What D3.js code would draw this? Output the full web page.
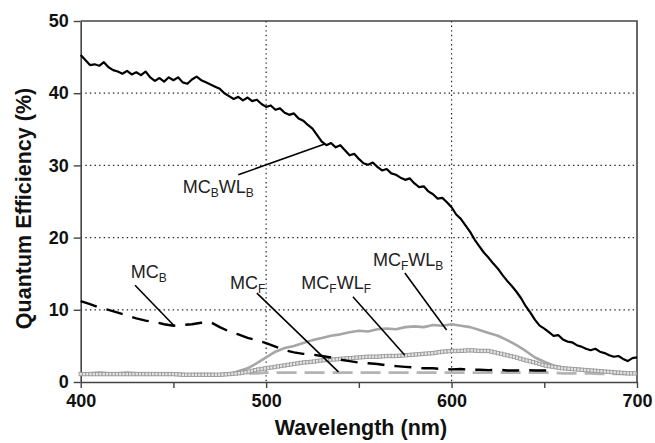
<!DOCTYPE html>
<html>
<head>
<meta charset="utf-8">
<script src="https://cdn.jsdelivr.net/npm/d3@7"></script>
<style>
  html, body { margin: 0; padding: 0; background: #fff; }
  svg { display: block; font-family: "Liberation Sans", Arial, Helvetica, sans-serif; }
</style>
</head>
<body>
<svg id="chart" width="655" height="443"></svg>
<script>
// ---------------- DATA ----------------
// MC_B WL_B (black solid), wavelengths 400..700 step 2.5
const wlFine = d3.range(0, 121).map(i => 400 + i * 2.5);
const mcbwlb = [
  45.3, 44.6, 43.9, 44.0, 43.8, 44.3, 43.6, 43.2, 43.0, 42.7,
  43.1, 42.6, 42.9, 42.5, 43.0, 42.2, 41.7, 42.1, 41.6, 42.2,
  41.8, 42.2, 41.5, 41.3, 41.9, 42.3, 41.8, 41.5, 41.2, 40.9,
  40.6, 40.0, 39.6, 39.2, 39.5, 39.0, 39.4, 38.9, 39.1, 38.5,
  38.1, 38.3, 37.7, 37.9, 37.3, 37.0, 37.2, 36.5, 36.2, 35.6,
  35.1, 34.2, 33.3, 32.8, 33.1, 32.5, 32.8, 32.1, 31.4, 31.6,
  30.9, 30.3, 30.1, 30.4, 29.8, 29.3, 29.5, 28.9, 28.7, 28.3,
  28.0, 28.2, 27.5, 27.0, 27.1, 26.4, 26.0, 25.4, 25.5, 24.9,
  24.2, 23.2, 22.6, 21.7, 20.8, 19.7, 18.8, 17.9, 17.2, 16.4,
  15.7, 14.8, 14.0, 13.3, 12.5, 11.6, 10.5, 9.6, 8.6, 7.8,
  7.4, 6.9, 6.4, 6.5, 5.9, 5.6, 5.5, 5.1, 4.9, 4.6,
  4.4, 4.6, 4.2, 4.0, 3.7, 3.5, 3.6, 3.2, 2.9, 3.3,
  3.4
];

// MC_B (black dashed), wavelengths 400..655 step 5
const wlMCB = d3.range(0, 52).map(i => 400 + i * 5);
const mcb = [
  11.2, 10.8, 10.3, 10.0, 9.6, 9.2, 8.8, 8.5, 8.3, 8.0,
  7.8, 7.9, 8.0, 8.2, 8.3, 7.6, 7.0, 6.6, 6.1, 5.8,
  5.4, 4.9, 4.4, 4.1, 3.9, 3.8, 3.6, 3.4, 3.1, 2.9,
  2.7, 2.6, 2.5, 2.3, 2.2, 2.1, 2.0, 1.9, 1.9, 1.8,
  1.75, 1.8, 1.7, 1.7, 1.65, 1.7, 1.6, 1.6, 1.65, 1.6,
  1.6, 1.6
];

// common 5 nm grid for gray series, 400..700
const wl5 = d3.range(0, 61).map(i => 400 + i * 5);

// MC_F (light gray dashed)
const mcf = [
  1.2, 1.2, 1.2, 1.2, 1.2, 1.2, 1.2, 1.2, 1.1, 1.1,
  1.1, 1.1, 1.1, 1.1, 1.1, 1.1, 1.2, 1.2, 1.2, 1.2,
  1.3, 1.3, 1.3, 1.3, 1.3, 1.3, 1.3, 1.3, 1.3, 1.3,
  1.3, 1.3, 1.3, 1.3, 1.3, 1.3, 1.3, 1.3, 1.3, 1.3,
  1.3, 1.3, 1.3, 1.3, 1.3, 1.3, 1.3, 1.3, 1.3, 1.3,
  1.3, 1.3, 1.2, 1.2, 1.2, 1.2, 1.1, 1.1, 1.1, 1.1,
  1.1
];

// MC_F WL_B (gray solid)
const mcfwlb = [
  1.2, 1.2, 1.3, 1.2, 1.2, 1.3, 1.2, 1.2, 1.1, 1.2,
  1.1, 1.1, 1.0, 1.0, 0.9, 0.9, 1.1, 1.5, 1.9, 2.6,
  3.4, 4.2, 4.7, 5.0, 5.4, 5.8, 6.1, 6.4, 6.6, 6.9,
  7.1, 7.0, 7.3, 7.4, 7.3, 7.6, 7.7, 7.6, 7.9, 7.8,
  8.0, 7.8, 7.6, 7.2, 6.8, 6.4, 5.8, 5.1, 4.3, 3.4,
  2.8, 2.3, 2.0, 1.8, 1.7, 1.6, 1.5, 1.4, 1.3, 1.2,
  1.2
];

// MC_F WL_F (gray with square markers)
const mcfwlf = [
  1.1, 1.1, 1.1, 1.1, 1.1, 1.1, 1.1, 1.1, 1.1, 1.1,
  1.1, 1.0, 1.0, 1.0, 1.0, 1.0, 1.1, 1.2, 1.4, 1.7,
  1.9, 2.1, 2.3, 2.5, 2.7, 2.8, 3.0, 3.1, 3.2, 3.3,
  3.4, 3.5, 3.5, 3.6, 3.6, 3.7, 3.8, 3.9, 4.0, 4.2,
  4.3, 4.3, 4.4, 4.3, 4.3, 4.0, 3.7, 3.4, 3.0, 2.7,
  2.3, 2.1, 1.9, 1.8, 1.7, 1.6, 1.5, 1.4, 1.3, 1.2,
  1.2
];

// axis ticks
const xTicks = [400, 500, 600, 700];
const xMinorTicks = [400, 450, 500, 550, 600, 650, 700];
const yTicks = [0, 10, 20, 30, 40, 50];
const xGrid = [500, 600];
const yGrid = [10, 20, 30, 40];

// annotations: label anchor (wavelength, value) and leader line endpoints
const annotations = [
  { parts: [["MC", 0], ["B", 1], ["WL", 0], ["B", 1]], lx: 455, ly: 26.2, from: [485, 28.7], to: [532, 33.0] },
  { parts: [["MC", 0], ["B", 1]], lx: 427, ly: 14.4, from: [429.3, 13.4], to: [450, 7.9] },
  { parts: [["MC", 0], ["F", 1]], lx: 480.5, ly: 12.9, from: [495, 12.3], to: [539, 1.4] },
  { parts: [["MC", 0], ["F", 1], ["WL", 0], ["F", 1]], lx: 519, ly: 12.9, from: [546.8, 11.8], to: [574.8, 3.7] },
  { parts: [["MC", 0], ["F", 1], ["WL", 0], ["B", 1]], lx: 557.6, ly: 16.1, from: [574.8, 15.1], to: [597.3, 7.2] }
];

// ---------------- CHART ----------------
const svg = d3.select("#chart");
const X0 = 80.7, X1 = 637, Y0 = 21, Y1 = 382;
const x = d3.scaleLinear().domain([400, 700]).range([X0, X1]);
const y = d3.scaleLinear().domain([0, 50]).range([Y1, Y0]);

// grid
const grid = svg.append("g").attr("stroke", "#222").attr("stroke-width", 1.2)
  .attr("stroke-dasharray", "1.4,3.2");
grid.selectAll("line.h").data(yGrid).enter().append("line")
  .attr("x1", X0).attr("x2", X1).attr("y1", d => y(d)).attr("y2", d => y(d));
grid.selectAll("line.v").data(xGrid).enter().append("line")
  .attr("y1", Y0).attr("y2", Y1).attr("x1", d => x(d)).attr("x2", d => x(d));

// frame (top + right)
svg.append("path")
  .attr("d", `M${X0},${Y0}H${X1}V${Y1}`)
  .attr("fill", "none").attr("stroke", "#444").attr("stroke-width", 1.6);

// axes
const yAxis = d3.axisLeft(y).tickValues(yTicks).tickSize(7).tickPadding(5).tickSizeOuter(0);
const gy = svg.append("g").attr("transform", `translate(${X0},0)`).call(yAxis);
gy.select(".domain").attr("stroke", "#444").attr("stroke-width", 1.6);
gy.selectAll(".tick line").attr("stroke", "#444").attr("stroke-width", 1.4);
gy.selectAll(".tick text").attr("font-size", 18).attr("font-weight", "bold")
  .attr("fill", "#111").attr("font-family", "Liberation Sans, Arial, sans-serif");

const xAxis = d3.axisBottom(x).tickValues(xMinorTicks).tickSize(6).tickPadding(6).tickSizeOuter(0)
  .tickFormat(d => xTicks.includes(d) ? d : "");
const gx = svg.append("g").attr("transform", `translate(0,${Y1})`).call(xAxis);
gx.select(".domain").attr("stroke", "#444").attr("stroke-width", 1.6);
gx.selectAll(".tick line").attr("stroke", "#444").attr("stroke-width", 1.4);
gx.selectAll(".tick text").attr("font-size", 18).attr("font-weight", "bold")
  .attr("fill", "#111").attr("font-family", "Liberation Sans, Arial, sans-serif");

// axis titles
svg.append("text")
  .attr("x", (X0 + X1) / 2 + 2).attr("y", 435)
  .attr("text-anchor", "middle").attr("font-size", 21.5).attr("font-weight", "bold").attr("fill", "#111")
  .text("Wavelength (nm)");
svg.append("text")
  .attr("transform", `translate(31,${(Y0 + Y1) / 2 + 7}) rotate(-90)`)
  .attr("text-anchor", "middle").attr("font-size", 21.5).attr("font-weight", "bold").attr("fill", "#111")
  .text("Quantum Efficiency (%)");

// lines
const line = (xs) => d3.line().x((d, i) => x(xs[i])).y(d => y(d));
const plot = svg.append("g");

plot.append("path").datum(mcf).attr("d", line(wl5))
  .attr("fill", "none").attr("stroke", "#b4b4b4").attr("stroke-width", 2.6)
  .attr("stroke-dasharray", "20,8");

plot.append("path").datum(mcfwlb).attr("d", line(wl5))
  .attr("fill", "none").attr("stroke", "#a6a6a6").attr("stroke-width", 2.6)
  .attr("stroke-linejoin", "round");

const sq = plot.append("path").datum(mcfwlf).attr("d", line(wl5))
  .attr("fill", "none").attr("stroke", "#a0a0a0").attr("stroke-width", 1.5);
const sqNode = sq.node();
const L = sqNode.getTotalLength();
const markerPts = d3.range(0, L, 3.3).map(d => sqNode.getPointAtLength(d));
plot.append("g").selectAll("rect").data(markerPts).enter().append("rect")
  .attr("x", d => d.x - 1.7).attr("y", d => d.y - 1.7)
  .attr("width", 3.4).attr("height", 3.4)
  .attr("fill", "#e4e4e4").attr("stroke", "#9a9a9a").attr("stroke-width", 0.9);

plot.append("path").datum(mcb).attr("d", line(wlMCB))
  .attr("fill", "none").attr("stroke", "#000").attr("stroke-width", 2.4)
  .attr("stroke-dasharray", "17,10");

plot.append("path").datum(mcbwlb).attr("d", line(wlFine))
  .attr("fill", "none").attr("stroke", "#000").attr("stroke-width", 2.2)
  .attr("stroke-linejoin", "round");

// annotations
const ann = svg.append("g");
annotations.forEach(a => {
  ann.append("line")
    .attr("x1", x(a.from[0])).attr("y1", y(a.from[1]))
    .attr("x2", x(a.to[0])).attr("y2", y(a.to[1]))
    .attr("stroke", "#000").attr("stroke-width", 1.6);
  const t = ann.append("text").attr("x", x(a.lx)).attr("y", y(a.ly))
    .attr("font-size", 18).attr("fill", "#222");
  let sub = 0;
  a.parts.forEach(([s, isSub]) => {
    const ts = t.append("tspan").text(s);
    if (isSub && !sub) { ts.attr("dy", 4).attr("font-size", 12); sub = 1; }
    else if (!isSub && sub) { ts.attr("dy", -4); sub = 0; }
    else if (isSub) { ts.attr("font-size", 12); }
  });
});
</script>
</body>
</html>
